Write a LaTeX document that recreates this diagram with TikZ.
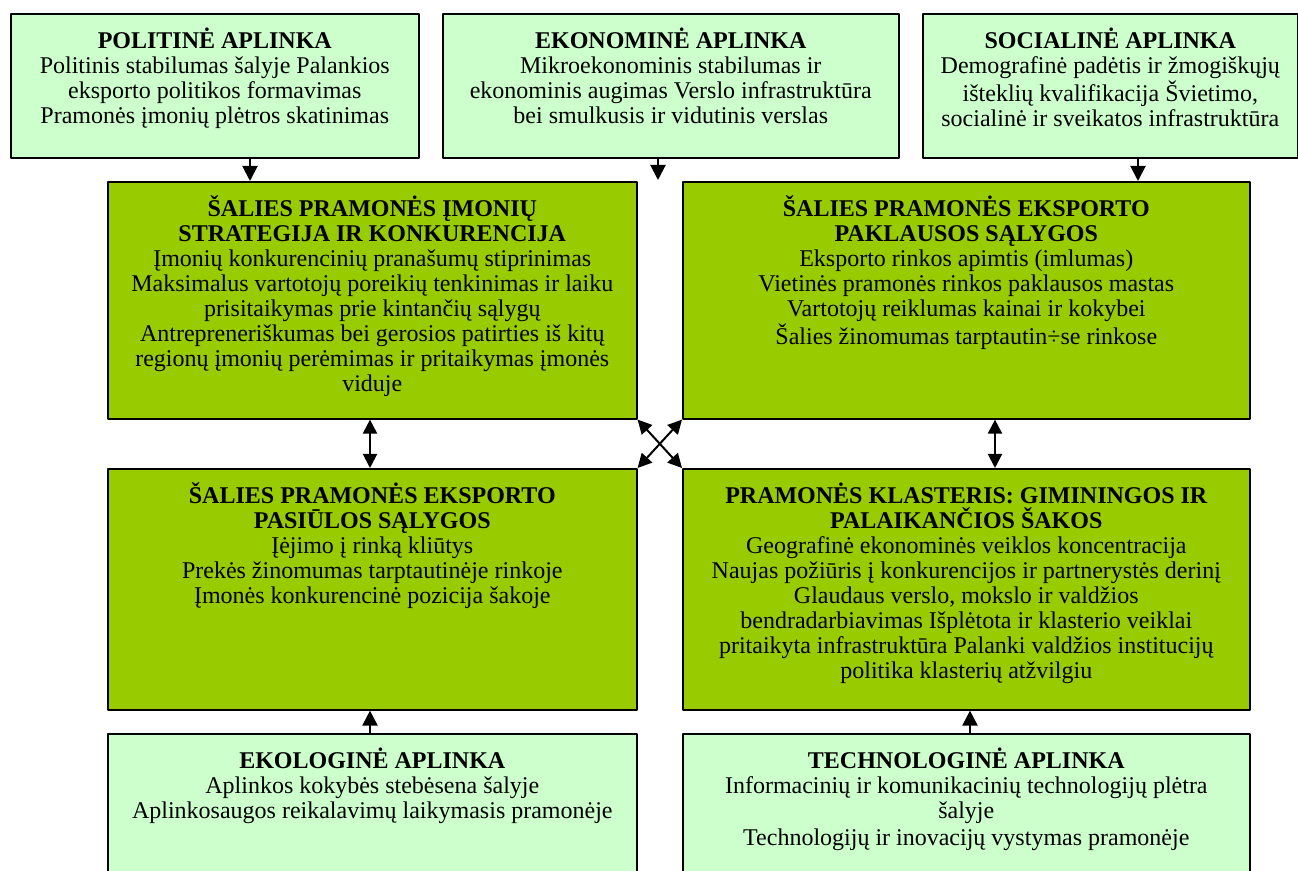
\documentclass[tikz,border=0pt]{standalone}
\usepackage{fontspec}
\setmainfont{Liberation Serif}
\usepackage{tikz}
\usetikzlibrary{arrows.meta}
\definecolor{envgreen}{HTML}{CCFFCC}
\definecolor{coregreen}{HTML}{99CC00}
\newcommand{\boxtxt}[4]{\parbox[t][#2][t]{#1}{\centering\rule{0pt}{17.5pt}\textbf{#3}\\#4}}
\tikzset{
  envbox/.style={draw=black,line width=0.8pt,fill=envgreen,inner sep=0pt,anchor=north west,
    font=\fontsize{12}{12.5}\selectfont},
  corebox/.style={envbox,fill=coregreen},
  arr/.style={line width=1pt,-{Triangle[length=7.5pt,width=7.5pt]}},
  darr/.style={line width=1pt,{Triangle[length=7pt,width=7pt]}-{Triangle[length=7pt,width=7pt]}}
}
\begin{document}
\begin{tikzpicture}[line cap=round,line join=round,x=0.5pt,y=-0.5pt]
\useasboundingbox (0,0) rectangle (1298,871);
\node[envbox] (pol) at (10,13) {\boxtxt{204pt}{72pt}{POLITINĖ APLINKA}{Politinis stabilumas šalyje Palankios\\ eksporto politikos formavimas\\ Pramonės įmonių plėtros skatinimas}};
\node[envbox] (eko) at (442,13) {\boxtxt{228pt}{72pt}{EKONOMINĖ APLINKA}{Mikroekonominis stabilumas ir\\ ekonominis augimas Verslo infrastruktūra\\ bei smulkusis ir vidutinis verslas}};
\node[envbox] (soc) at (922,13) {\boxtxt{187.5pt}{72pt}{SOCIALINĖ APLINKA}{Demografinė padėtis ir žmogiškųjų\\ išteklių kvalifikacija Švietimo,\\ socialinė ir sveikatos infrastruktūra}};
\node[corebox] (strat) at (107,181) {\boxtxt{264.5pt}{118.5pt}{ŠALIES PRAMONĖS ĮMONIŲ\\ STRATEGIJA IR KONKURENCIJA}{Įmonių konkurencinių pranašumų stiprinimas\\ Maksimalus vartotojų poreikių tenkinimas ir laiku\\ prisitaikymas prie kintančių sąlygų\\ Antrepreneriškumas bei gerosios patirties iš kitų\\ regionų įmonių perėmimas ir pritaikymas įmonės\\ viduje}};
\node[corebox] (pakl) at (682,181) {\boxtxt{283.5pt}{118.5pt}{ŠALIES PRAMONĖS EKSPORTO\\ PAKLAUSOS SĄLYGOS}{Eksporto rinkos apimtis (imlumas)\\ Vietinės pramonės rinkos paklausos mastas\\ Vartotojų reiklumas kainai ir kokybei\\ Šalies žinomumas tarptautin÷se rinkose}};
\node[corebox] (pasi) at (107,468) {\boxtxt{264.5pt}{120.5pt}{ŠALIES PRAMONĖS EKSPORTO\\ PASIŪLOS SĄLYGOS}{Įėjimo į rinką kliūtys\\ Prekės žinomumas tarptautinėje rinkoje\\ Įmonės konkurencinė pozicija šakoje}};
\node[corebox] (klast) at (682,468) {\boxtxt{283.5pt}{120.5pt}{PRAMONĖS KLASTERIS: GIMININGOS IR\\ PALAIKANČIOS ŠAKOS}{Geografinė ekonominės veiklos koncentracija\\ Naujas požiūris į konkurencijos ir partnerystės derinį\\ Glaudaus verslo, mokslo ir valdžios\\ bendradarbiavimas Išplėtota ir klasterio veiklai\\ pritaikyta infrastruktūra Palanki valdžios institucijų\\ politika klasterių atžvilgiu}};
\node[envbox] (ekol) at (107,733) {\boxtxt{264.5pt}{75pt}{EKOLOGINĖ APLINKA}{Aplinkos kokybės stebėsena šalyje\\ Aplinkosaugos reikalavimų laikymasis pramonėje}};
\node[envbox] (tech) at (682,733) {\boxtxt{283.5pt}{75pt}{TECHNOLOGINĖ APLINKA}{Informacinių ir komunikacinių technologijų plėtra\\ šalyje\\[1pt] Technologijų ir inovacijų vystymas pramonėje}};
\coordinate (ekoend) at (658,180);
\draw[arr] (pol.south -| 250,0) -- (strat.north -| 250,0);
\draw[arr] (eko.south -| ekoend) -- (ekoend);
\draw[arr] (soc.south -| 1138,0) -- (pakl.north -| 1138,0);
\draw[darr] (strat.south -| 370,0) -- (pasi.north -| 370,0);
\draw[darr] (pakl.south -| 995,0) -- (klast.north -| 995,0);
\draw[darr] (strat.south east) -- (klast.north west);
\draw[darr] (pakl.south west) -- (pasi.north east);
\draw[arr] (ekol.north -| 370,0) -- (pasi.south -| 370,0);
\draw[arr] (tech.north -| 970,0) -- (klast.south -| 970,0);
\end{tikzpicture}
\end{document}
